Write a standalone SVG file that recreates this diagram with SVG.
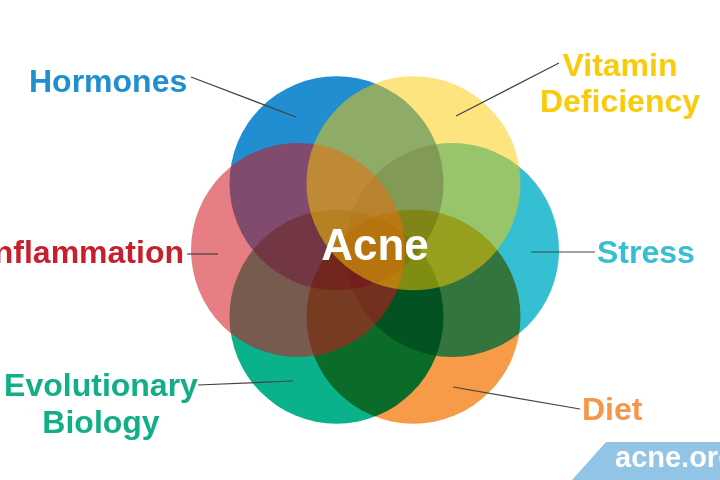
<svg xmlns="http://www.w3.org/2000/svg" width="720" height="480" viewBox="0 0 720 480">
<style>
.lbl{font-family:"Liberation Sans",Arial,sans-serif;font-weight:bold;font-size:32px}
.mul{mix-blend-mode:multiply}
.conn{stroke:#444;stroke-width:1.2;fill:none}
</style>
<rect width="720" height="480" fill="#fff"/>
<g id="hormones">
<circle cx="336.5" cy="183.3" r="107" fill="#208ed0"/>
<text class="lbl" x="29" y="92" fill="#1f8fd0">Hormones</text>
</g>
<g id="stress">
<circle class="mul" cx="452" cy="250" r="107" fill="#34c0d2"/>
<text class="lbl" x="597" y="263" fill="#36bfd2">Stress</text>
</g>
<g id="evolutionary-biology">
<circle class="mul" cx="336.5" cy="316.7" r="107" fill="#0ab28c"/>
<text class="lbl" x="101" y="396" text-anchor="middle" fill="#11ae88">Evolutionary</text>
<text class="lbl" x="101" y="433" text-anchor="middle" fill="#11ae88">Biology</text>
</g>
<g id="diet">
<circle class="mul" cx="413.5" cy="316.7" r="107" fill="#f79b48"/>
<text class="lbl" x="582" y="420" fill="#f5964a">Diet</text>
</g>
<g id="inflammation">
<circle cx="298" cy="250" r="107" fill="rgb(210,20,30)" fill-opacity="0.55"/>
<text class="lbl" x="184" y="263" text-anchor="end" fill="#c81f2d">Inflammation</text>
</g>
<g id="vitamin-deficiency">
<circle cx="413.5" cy="183.3" r="107" fill="rgb(251,201,0)" fill-opacity="0.5"/>
<text class="lbl" x="620" y="76" text-anchor="middle" fill="#f8cc0c">Vitamin</text>
<text class="lbl" x="620" y="112" text-anchor="middle" fill="#f8cc0c">Deficiency</text>
</g>
<g id="connectors">
<line class="conn" x1="191" y1="77" x2="296" y2="117"/>
<line class="conn" x1="559" y1="63" x2="456" y2="116"/>
<line class="conn" x1="187" y1="254" x2="218" y2="254"/>
<line class="conn" x1="531" y1="252" x2="595" y2="252"/>
<line class="conn" x1="198" y1="385" x2="293" y2="381"/>
<line class="conn" x1="453" y1="387" x2="580" y2="409"/>
</g>
<g id="acne">
<text x="375" y="260" text-anchor="middle" font-family="Liberation Sans, Arial, sans-serif" font-weight="bold" font-size="44" fill="#fff">Acne</text>
</g>
<g id="banner">
<polygon points="606,442 720,442 720,480 572,480" fill="#92c4e6"/>
<text x="615" y="467" font-family="Liberation Sans, Arial, sans-serif" font-weight="bold" font-size="29" fill="#fff">acne.org</text>
</g>
</svg>
